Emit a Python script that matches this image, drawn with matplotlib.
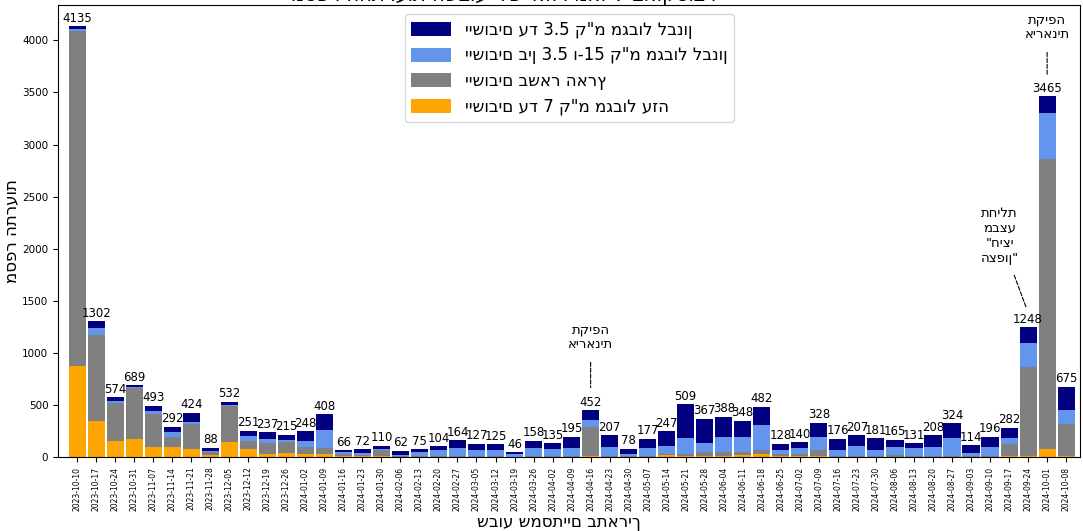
import numpy as np
import matplotlib
matplotlib.use('Agg')
import matplotlib.pyplot as plt

weeks = ['2023-10-10', '2023-10-17', '2023-10-24', '2023-10-31', '2023-11-07', '2023-11-14',
         '2023-11-21', '2023-11-28', '2023-12-05', '2023-12-12', '2023-12-19', '2023-12-26',
         '2024-01-02', '2024-01-09', '2024-01-16', '2024-01-23', '2024-01-30', '2024-02-06',
         '2024-02-13', '2024-02-20', '2024-02-27', '2024-03-05', '2024-03-12', '2024-03-19',
         '2024-03-26', '2024-04-02', '2024-04-09', '2024-04-16', '2024-04-23', '2024-04-30',
         '2024-05-07', '2024-05-14', '2024-05-21', '2024-05-28', '2024-06-04', '2024-06-11',
         '2024-06-18', '2024-06-25', '2024-07-02', '2024-07-09', '2024-07-16', '2024-07-23',
         '2024-07-30', '2024-08-06', '2024-08-13', '2024-08-20', '2024-08-27', '2024-09-03',
         '2024-09-10', '2024-09-17', '2024-09-24', '2024-10-01', '2024-10-08']

# stacked from the bottom: gaza border, rest of country, lebanon 3.5-15 km, lebanon up to 3.5 km
gaza = [870, 350, 157, 170, 100, 93, 74, 15, 147, 77, 30, 38, 25, 25, 10, 5, 8, 2, 2, 3, 3, 2, 2, 1,
        2, 2, 2, 7, 3, 1, 4, 15, 12, 5, 8, 15, 24, 12, 10, 5, 2, 2, 2, 3, 2, 2, 2, 2, 2, 5, 10, 74, 5]
rest = [3220, 823, 365, 490, 310, 102, 243, 30, 345, 80, 105, 105, 70, 60, 19, 12, 55, 3, 5, 6, 6,
        5, 5, 3, 6, 6, 6, 282, 7, 4, 6, 12, 12, 40, 40, 35, 42, 18, 18, 61, 6, 6, 6, 20, 6, 6, 8,
        10, 6, 123, 853, 2788, 312]
leb_mid = [15, 70, 16, 10, 35, 42, 16, 15, 10, 45, 38, 20, 55, 170, 22, 20, 12, 12, 38, 60, 80, 60,
           60, 20, 75, 65, 77, 67, 82, 28, 72, 80, 160, 85, 145, 138, 237, 40, 58, 128, 62, 97, 58,
           72, 75, 88, 170, 28, 86, 58, 231, 443, 135]
leb_near = [30, 59, 36, 19, 48, 55, 91, 28, 30, 49, 64, 52, 98, 153, 15, 35, 35, 45, 30, 35, 75, 60,
            58, 22, 75, 62, 110, 96, 115, 45, 95, 140, 325, 237, 195, 160, 179, 58, 54, 134, 106,
            102, 115, 70, 48, 112, 144, 74, 102, 96, 154, 160, 223]

x = np.arange(len(weeks))
gaza = np.array(gaza)
rest = np.array(rest)
leb_mid = np.array(leb_mid)
leb_near = np.array(leb_near)
totals = gaza + rest + leb_mid + leb_near

fig = plt.figure(figsize=(10.83, 5.31), dpi=100)
ax = fig.add_axes([0.0536, 0.1394, 0.944, 0.8512])

w = 0.9
b1 = ax.bar(x, gaza, w, color='orange', label='יישובים עד 7 ק"מ מגבול עזה')
b2 = ax.bar(x, rest, w, bottom=gaza, color='gray', label='יישובים בשאר הארץ')
b3 = ax.bar(x, leb_mid, w, bottom=gaza + rest, color='cornflowerblue',
            label='יישובים בין 3.5 ו-15 ק"מ מגבול לבנון')
b4 = ax.bar(x, leb_near, w, bottom=gaza + rest + leb_mid, color='navy',
            label='יישובים עד 3.5 ק"מ מגבול לבנון')
ax.bar_label(b4, labels=[str(t) for t in totals], fontsize=8.5, padding=1)

ax.set_xlim(-1.0, 52.75)
ax.set_ylim(0, 4340)
ax.set_yticks(np.arange(0, 4001, 500))
ax.tick_params(axis='y', labelsize=7.5)
ax.set_xticks(x)
ax.set_xticklabels(weeks, rotation=90, fontsize=5.5)
ax.set_ylabel('מספר התרעות', fontsize=12)
ax.yaxis.set_label_coords(-0.037, 0.5)
ax.set_xlabel('שבוע שמסתיים בתאריך', fontsize=12)
ax.xaxis.set_label_coords(0.49, -0.124)

handles = [b4, b3, b2, b1]
ax.legend(handles, [h.get_label() for h in handles], loc='upper center', fontsize=12,
          handlelength=2.4, handleheight=0.9, labelspacing=0.45, bbox_to_anchor=(0.5, 0.998))

ax.annotate('תקיפה\nאיראנית', xy=(27, 640), xytext=(27, 1150), ha='center', va='center',
            fontsize=9.5, arrowprops=dict(arrowstyle='-', linestyle='--', color='black', lw=0.8, shrinkA=6))
ax.annotate('תקיפה\nאיראנית', xy=(51, 3640), xytext=(51, 4125), ha='center', va='center',
            fontsize=9.5, arrowprops=dict(arrowstyle='-', linestyle='--', color='black', lw=0.8, shrinkA=6))
ax.annotate('תחילת\nמבצע\n"חיצי\nהצפון"', xy=(49.95, 1410), xytext=(48.5, 2125), ha='center',
            va='center', fontsize=9.5,
            arrowprops=dict(arrowstyle='-', linestyle='--', color='black', lw=0.8, shrinkA=6))

# title is cut off at the top edge in the reference
fig.text(0.465, 1 - 1 / 531, 'מספר ההתרעות השבועי לפי אזור מאז 7 באוקטובר', ha='center',
         va='baseline', fontsize=14)

fig.savefig('out.png', dpi=100)
